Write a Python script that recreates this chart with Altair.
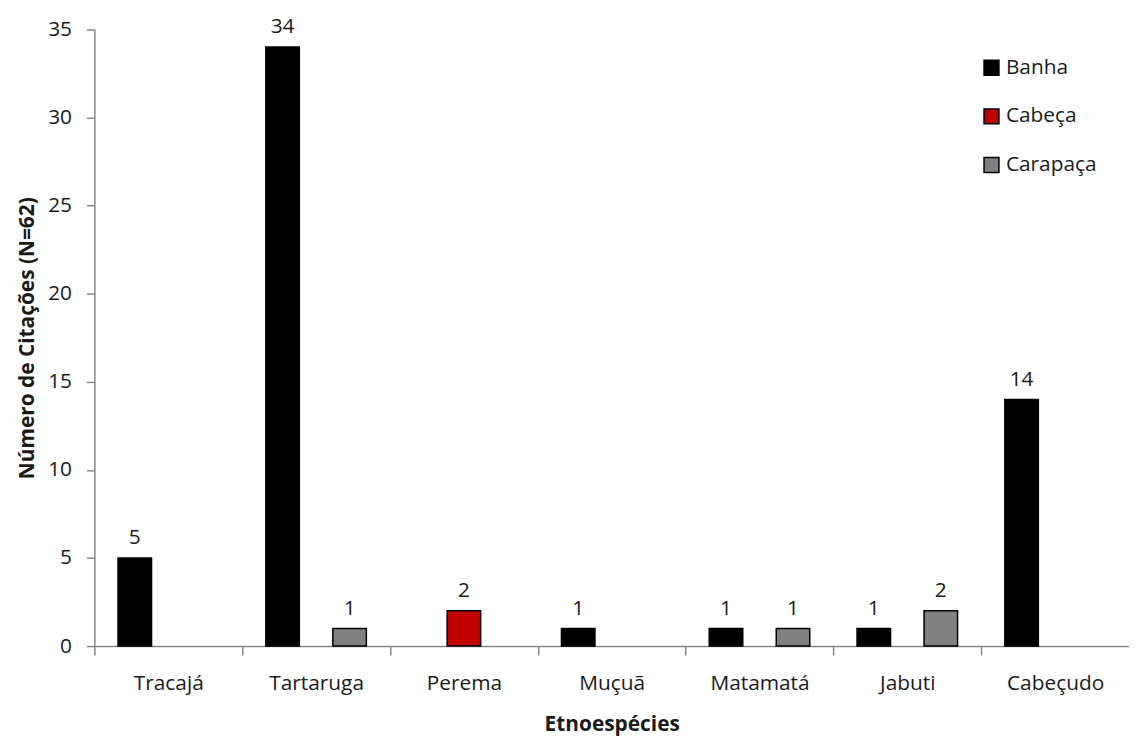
import altair as alt
import pandas as pd

categories = ["Tracajá", "Tartaruga", "Perema", "Muçuã", "Matamatá", "Jabuti", "Cabeçudo"]
series = ["Banha", "Cabeça", "Carapaça"]
banha = [5, 34, 0, 1, 1, 1, 14]
cabeca = [0, 0, 2, 0, 0, 0, 0]
carapaca = [0, 1, 0, 0, 1, 2, 0]
colors = ["#000000", "#C00000", "#808080"]

rows = []
for name, vals in zip(series, [banha, cabeca, carapaca]):
    for c, v in zip(categories, vals):
        if v > 0:
            rows.append({"cat": c, "serie": name, "val": v})
df = pd.DataFrame(rows)

FONT = "Open Sans"
W = 1042
H = 621
STEP = W / len(categories)

x = alt.X("cat:N", sort=categories, title="Etnoespécies",
          scale=alt.Scale(paddingInner=0.32, paddingOuter=0.16),
          axis=alt.Axis(labelAngle=0, tickOffset=-STEP / 2, labelOffset=STEP / 2,
                        tickSize=9, labelPadding=18, titlePadding=20,
                        labelFontSize=21, titleFontSize=21,
                        labelColor="#1a1a1a", titleColor="#1a1a1a"))
xo = alt.XOffset("serie:N", scale=alt.Scale(domain=series, paddingInner=0, paddingOuter=0))
y = alt.Y("val:Q", title="Número de Citações  (N=62)",
          scale=alt.Scale(domain=[0, 35], nice=False),
          axis=alt.Axis(values=[0, 5, 10, 15, 20, 25, 30, 35], grid=False, tickSize=8,
                        labelPadding=15, titlePadding=10, labelFontSize=21, titleFontSize=21,
                        labelColor="#1a1a1a", titleColor="#1a1a1a"))

bars = alt.Chart(df).mark_bar(stroke="#000000", strokeWidth=1.5).encode(
    x=x, xOffset=xo, y=y,
    color=alt.Color("serie:N", scale=alt.Scale(domain=series, range=colors),
                    legend=alt.Legend(title=None, orient="none", legendX=893, legendY=28,
                                      symbolType="square", symbolSize=225,
                                      symbolStrokeColor="#000000", symbolStrokeWidth=1.5,
                                      labelFontSize=21, labelFont=FONT, labelColor="#1a1a1a",
                                      labelOffset=4, rowPadding=27)),
)

labels = alt.Chart(df).mark_text(fontSize=21, font=FONT, baseline="alphabetic", dy=-14,
                                 color="#1a1a1a").encode(
    x=x, xOffset=xo, y=y, text="val:Q")

chart = alt.layer(bars, labels).properties(
    width=W, height=H,
    autosize=alt.AutoSizeParams(type="none"),
    padding={"left": 87, "top": 19, "right": 0, "bottom": 92},
).configure(font=FONT).configure_axis(
    domainColor="#868686", tickColor="#868686", domainWidth=1.5, tickWidth=1.5,
    labelFont=FONT, titleFont=FONT, titleFontWeight="bold",
).configure_view(stroke=None)

chart.save("out.html", embed_options={"renderer": "svg", "actions": False})
